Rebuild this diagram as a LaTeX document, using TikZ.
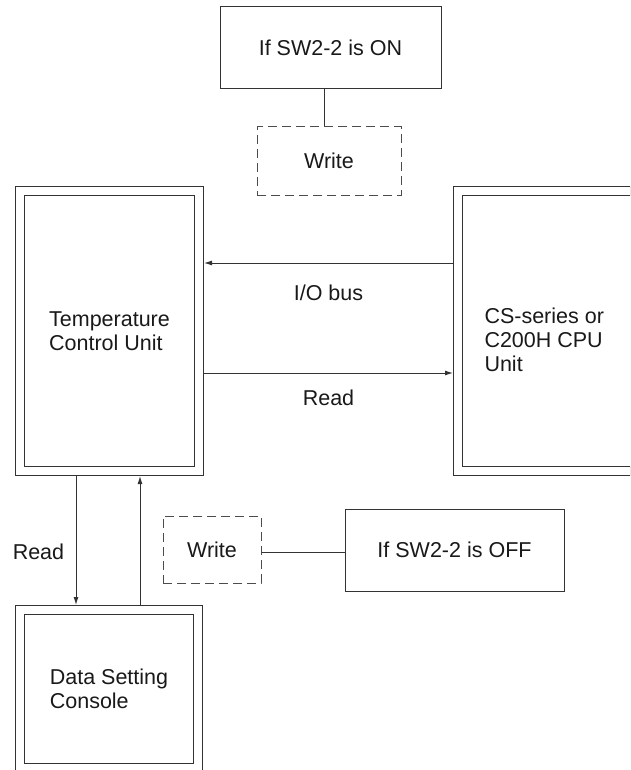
\documentclass[tikz,border=0pt]{standalone}
\usepackage{fontspec}
\setmainfont{Liberation Sans}
\usetikzlibrary{arrows.meta,positioning,calc}

\begin{document}
\begin{tikzpicture}[x=1pt,y=-1pt,>={Latex[length=8pt,width=5pt]},line width=1pt,font=\fontsize{21.5}{24}\selectfont]
\tikzstyle{unitbox}=[draw=black!80, double, double distance=8pt, outer sep=5pt, align=left, text=black!90]
\tikzstyle{plainbox}=[draw=black!80, minimum width=221pt, minimum height=82pt, text=black!90]
\tikzstyle{dashbox}=[draw=black!70, dash pattern=on 9pt off 5pt, minimum height=68pt, text=black!90]
\tikzstyle{link}=[draw=black!80]
\useasboundingbox (0,0) rectangle (630,770);
\clip (0,0) rectangle (630,770);
\node[plainbox] (swon) at (330.5,48) {If SW2-2 is ON};
\node[dashbox, minimum width=144pt] (wron) at (329,161) {Write};
\node[unitbox, minimum width=179pt, minimum height=280.5pt] (tcu) at (109.5,330.75) {Temperature\\Control Unit};
\node[unitbox, minimum width=250pt, minimum height=280.5pt] (cpu) at (583,330.75) {};
\node[align=left, inner sep=0pt, anchor=west, text=black!90] (cpuname) at (484,340.2) {CS-series or\\C200H CPU\\Unit};
\node[dashbox, minimum width=98pt, minimum height=67pt] (wroff) at (212,549.5) {Write};
\node[plainbox, minimum width=219pt] (swoff) at (454.5,550) {If SW2-2 is OFF};
\node[unitbox, minimum width=178pt, minimum height=158pt] (dsc) at (109,689) {Data Setting\\Console};
% switch boxes
\coordinate (wrtop) at ([xshift=-5pt]wron.north);
\draw[link] (wrtop) -- (wrtop |- swon.south);
\draw[link] ([yshift=-2.5pt]wroff.east) -- ([yshift=-2pt]swoff.west);
% bus
\draw[link,->] ([yshift=67.75pt]cpu.west) -- ([yshift=67.75pt]tcu.east) node[midway, yshift=-30pt, text=black!90] {I/O bus};
\draw[link,->] ([yshift=-42.25pt]tcu.east) -- ([yshift=-42.25pt]cpu.west) node[midway, yshift=-25pt, text=black!90] {Read};
% console
\draw[link,->] ([xshift=-33.5pt]tcu.south) -- ([xshift=-33pt]dsc.north) node[pos=0.59, left=8pt, text=black!90] {Read};
\draw[link,->] ([xshift=31pt]dsc.north) -- ([xshift=30.5pt]tcu.south);
\end{tikzpicture}
\end{document}
